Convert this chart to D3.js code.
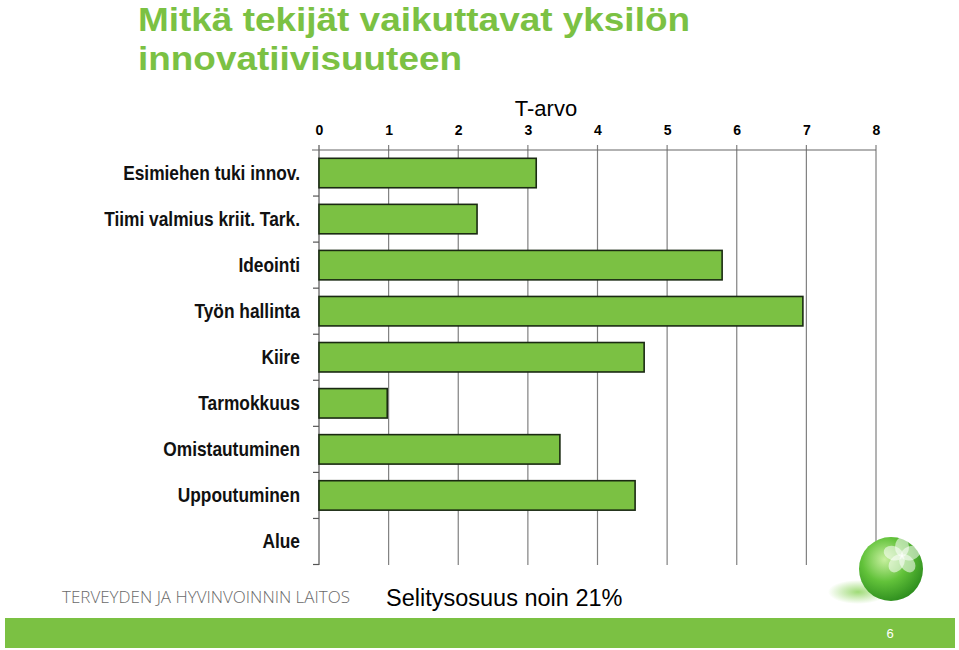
<!DOCTYPE html>
<html><head><meta charset="utf-8">
<script src="https://cdn.jsdelivr.net/npm/d3@7"></script>
<style>html,body{margin:0;padding:0;background:#fff;}svg{display:block;}</style>
</head><body>
<svg id="c" width="959" height="650"></svg>
<script>
const categories = ["Esimiehen tuki innov.","Tiimi valmius kriit. Tark.","Ideointi","Työn hallinta","Kiire","Tarmokkuus","Omistautuminen","Uppoutuminen","Alue"];
const values = [3.12, 2.27, 5.79, 6.95, 4.67, 0.98, 3.46, 4.54, 0];
const xTicks = [0,1,2,3,4,5,6,7,8];
const titleLines = ["Mitkä tekijät vaikuttavat yksilön","innovatiivisuuteen"];
const axisTitle = "T-arvo";
const note = "Selitysosuus noin 21%";
const org = "TERVEYDEN JA HYVINVOINNIN LAITOS";
const pageNo = "6";

const svg = d3.select("#c");
const green = "#7bc143";
const defs = svg.append("defs");

const x = d3.scaleLinear().domain([0,8]).range([319,876]);
const y = d3.scaleBand().domain(categories).range([150,564.5]).paddingInner(0).paddingOuter(0);

// title (two lines, widened slightly to match the slide's heavier face)
const titleWidths = [552, 324];
svg.append("g").selectAll("text").data(titleLines).join("text")
  .attr("x",138).attr("y",(d,i)=>31+i*38.5)
  .attr("font-family","Liberation Sans, Arial, sans-serif").attr("font-weight","bold")
  .attr("font-size",34).attr("fill",green)
  .attr("textLength",(d,i)=>titleWidths[i]).attr("lengthAdjust","spacingAndGlyphs")
  .text(d=>d);

// axis title
svg.append("text").attr("x",546).attr("y",116).attr("text-anchor","middle")
  .attr("font-family","Liberation Sans, Arial, sans-serif").attr("font-size",22).attr("fill","#000").text(axisTitle);

// grid lines
svg.append("g").selectAll("line").data(xTicks).join("line")
  .attr("x1",d=>x(d)).attr("x2",d=>x(d)).attr("y1",145).attr("y2",565)
  .attr("stroke",d=>d===0?"#555":"#808080").attr("stroke-width",1.2);

// top axis
const xAxis = d3.axisTop(x).tickValues(xTicks).tickSize(0).tickPadding(0).tickFormat(d3.format("d"));
const gx = svg.append("g").attr("transform","translate(0,150)").call(xAxis);
gx.select(".domain").remove();
gx.selectAll("text").attr("y",-20).attr("dy","0.35em")
  .attr("font-family","Liberation Sans, Arial, sans-serif").attr("font-weight","bold").attr("font-size",14).attr("fill","#000");
svg.append("line").attr("x1",312).attr("x2",876).attr("y1",150).attr("y2",150).attr("stroke","#666").attr("stroke-width",1.2);

// left axis ticks at band boundaries
const bounds = categories.map(c=>y(c)+y.bandwidth());
svg.append("g").selectAll("line").data(bounds).join("line")
  .attr("x1",313).attr("x2",319).attr("y1",d=>d).attr("y2",d=>d).attr("stroke","#555").attr("stroke-width",1.2);

// y labels (condensed by horizontal scaling)
const yAxis = d3.axisLeft(y).tickSize(0).tickPadding(0);
const gy = svg.append("g").attr("transform","translate(319,0)").call(yAxis);
gy.select(".domain").remove();
const lbl = gy.selectAll("text").attr("font-family","Liberation Sans, Arial, sans-serif")
  .attr("font-weight","bold").attr("font-size",20).attr("fill","#111").attr("dy","0.35em");
const w0 = lbl.filter(d=>d===categories[0]).node().getComputedTextLength();
const sx = 177 / w0;
lbl.attr("x",0).attr("transform",`translate(-19,0) scale(${sx},1)`);

// bars
const inset = 8.3;
svg.append("g").selectAll("rect").data(categories.map((c,i)=>({c,v:values[i]})).filter(d=>d.v>0)).join("rect")
  .attr("x",x(0)).attr("y",d=>y(d.c)+inset).attr("width",d=>x(d.v)-x(0)).attr("height",y.bandwidth()-2*inset)
  .attr("fill",green).attr("stroke","#1a2a12").attr("stroke-width",1.6);

// footer
svg.append("text").attr("x",62).attr("y",603).attr("font-family","Open Sans, DejaVu Sans Condensed, sans-serif")
  .attr("font-size",16).attr("fill","#6a6a6a").attr("font-weight","300")
  .attr("textLength",288).attr("lengthAdjust","spacingAndGlyphs").text(org);
svg.append("text").attr("x",386).attr("y",606).attr("font-family","Liberation Sans, Arial, sans-serif")
  .attr("font-size",23.5).attr("fill","#000").text(note);

svg.append("rect").attr("x",5).attr("y",618).attr("width",950).attr("height",30).attr("fill",green);
svg.append("text").attr("x",890).attr("y",638).attr("text-anchor","middle").attr("font-family","Liberation Sans, Arial, sans-serif")
  .attr("font-size",13).attr("fill","#fff").text(pageNo);

// logo
const rg = defs.append("radialGradient").attr("id","sph").attr("cx","0.4").attr("cy","0.35").attr("r","0.7");
rg.append("stop").attr("offset","0").attr("stop-color","#c8f0a0");
rg.append("stop").attr("offset","0.5").attr("stop-color","#62c23a");
rg.append("stop").attr("offset","1").attr("stop-color","#2a8a1c");
const sg = defs.append("radialGradient").attr("id","shd");
sg.append("stop").attr("offset","0").attr("stop-color","#7fcf4a").attr("stop-opacity",0.75);
sg.append("stop").attr("offset","1").attr("stop-color","#7fcf4a").attr("stop-opacity",0);
svg.append("ellipse").attr("cx",858).attr("cy",592).attr("rx",30).attr("ry",12).attr("fill","url(#shd)");
svg.append("circle").attr("cx",891).attr("cy",569).attr("r",32).attr("fill","url(#sph)");
const petals = svg.append("g").attr("transform","translate(902,556)");
[0,72,144,216,288].forEach(a=>{
  petals.append("ellipse").attr("cx",0).attr("cy",-9).attr("rx",7).attr("ry",10)
    .attr("transform",`rotate(${a})`).attr("fill","#ffffff").attr("opacity",0.55);
});
</script>
</body></html>
